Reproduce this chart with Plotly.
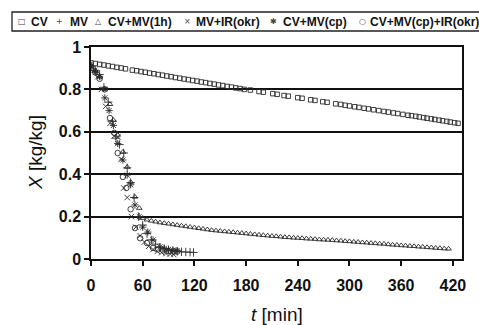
import plotly.graph_objects as go

# ---- data ----
cv_t = [0, 5, 10, 15, 20, 25, 30, 35, 40,
        48, 53, 58, 63, 68, 73, 78, 83, 88, 93, 98, 103, 108, 113, 118, 123, 128,
        133, 138, 143, 148, 153, 158, 163, 168, 173, 178,
        185, 195, 200, 211, 216, 224, 229, 240, 245, 255, 260, 269, 274,
        284, 290, 295, 300, 306, 311, 317, 322, 328,
        334, 340, 345, 351, 356, 362,
        368, 372, 377, 381, 386, 390, 395, 399, 404, 408, 413, 417, 422, 426]
cv_x = [0.925, 0.922, 0.918, 0.915, 0.911, 0.908, 0.904, 0.901, 0.897,
        0.891, 0.888, 0.884, 0.881, 0.877, 0.874, 0.870, 0.867, 0.863, 0.860, 0.856, 0.853, 0.849, 0.846, 0.842, 0.839, 0.835,
        0.832, 0.828, 0.825, 0.821, 0.818, 0.814, 0.811, 0.807, 0.804, 0.800,
        0.797, 0.790, 0.787, 0.780, 0.777, 0.771, 0.768, 0.761, 0.758, 0.751, 0.748, 0.742, 0.739,
        0.732, 0.729, 0.725, 0.722, 0.718, 0.715, 0.711, 0.708, 0.704,
        0.700, 0.696, 0.693, 0.689, 0.686, 0.682,
        0.678, 0.676, 0.673, 0.670, 0.667, 0.664, 0.661, 0.658, 0.655, 0.652, 0.649, 0.646, 0.643, 0.640]

mv_t = [0, 5, 10, 15, 20, 25, 29, 33, 38, 42, 46, 50, 55, 60, 65, 70, 75, 80, 85, 90, 95, 100, 105, 110, 115, 119]
mv_x = [0.91, 0.89, 0.87, 0.81, 0.74, 0.65, 0.57, 0.54, 0.50, 0.43, 0.36, 0.29, 0.20, 0.16, 0.12, 0.09, 0.07, 0.055, 0.048, 0.043, 0.039, 0.036, 0.034, 0.033, 0.032, 0.031]

cvmv1h_t = [0, 5, 10, 16, 22, 26, 31, 37, 42, 46, 51, 56, 60,
            65, 70, 75, 80, 85, 90, 95, 100, 105, 110, 115, 120, 125, 130, 135, 140,
            145, 150, 155, 160, 165, 170, 175, 180, 185, 190, 195, 200, 205, 210, 215, 220,
            225, 230, 235, 240, 245, 250, 255, 260, 265, 270, 275, 280, 285, 290, 295, 300,
            305, 310, 315, 320, 325, 330, 335, 340, 345, 350, 355, 360, 365, 370, 375, 380,
            385, 390, 395, 400, 405, 410, 415]
cvmv1h_x = [0.91, 0.89, 0.86, 0.80, 0.73, 0.655, 0.585, 0.505, 0.434, 0.363, 0.293, 0.24, 0.193,
            0.185, 0.180, 0.176, 0.172, 0.169, 0.166, 0.163, 0.160, 0.157, 0.154, 0.151, 0.148, 0.145, 0.142, 0.139, 0.136,
            0.134, 0.132, 0.130, 0.128, 0.126, 0.124, 0.122, 0.120, 0.118, 0.116, 0.114, 0.112, 0.110, 0.108, 0.107, 0.105,
            0.103, 0.102, 0.100, 0.099, 0.098, 0.096, 0.095, 0.094, 0.092, 0.091, 0.090, 0.089, 0.087, 0.086, 0.084, 0.083,
            0.081, 0.080, 0.078, 0.077, 0.075, 0.074, 0.072, 0.071, 0.069, 0.067, 0.066, 0.064, 0.063, 0.061, 0.060, 0.058,
            0.057, 0.055, 0.054, 0.052, 0.051, 0.049, 0.048]

mvir_t = [0, 4, 8, 12, 17, 22, 27, 31, 35, 38, 42, 47, 52, 57, 62, 67, 72, 77, 82, 87, 92, 96]
mvir_x = [0.91, 0.89, 0.86, 0.80, 0.72, 0.64, 0.58, 0.575, 0.47, 0.335, 0.29, 0.20, 0.15, 0.11, 0.08, 0.06, 0.045, 0.036, 0.030, 0.026, 0.023, 0.021]

cvmvcp_t = [0, 5, 10, 16, 21, 26, 31, 37, 42, 46, 51, 56, 60, 66, 72, 80, 85, 90, 95, 100]
cvmvcp_x = [0.91, 0.88, 0.86, 0.76, 0.70, 0.63, 0.545, 0.467, 0.396, 0.35, 0.255, 0.20, 0.15, 0.127, 0.09, 0.057, 0.050, 0.045, 0.042, 0.040]

cvmvcpir_t = [0, 5, 10, 16, 22, 27, 31, 37, 41, 46, 51, 57, 65, 72, 78, 84, 90, 96, 100]
cvmvcpir_x = [0.90, 0.88, 0.85, 0.80, 0.665, 0.595, 0.50, 0.387, 0.335, 0.235, 0.146, 0.098, 0.075, 0.052, 0.045, 0.040, 0.037, 0.035, 0.035]

series_names = ["CV", "MV", "CV+MV(1h)", "MV+IR(okr)", "CV+MV(cp)", "CV+MV(cp)+IR(okr)"]
x_ticks = [0, 60, 120, 180, 240, 300, 360, 420]
y_ticks = [0, 0.2, 0.4, 0.6, 0.8, 1]
y_tick_labels = ["0", "0.2", "0.4", "0.6", "0.8", "1"]

# ---- styling ----
W, H = 479, 325
ML, MR, MT, MB = 91, 17, 47, 66
PW, PH = W - ML - MR, H - MT - MB
mc = "#2a2a2a"
FONT = "Liberation Sans, Arial, sans-serif"

series = [
    (cv_t, cv_x, "square-open", 4.5),
    (mv_t, mv_x, "cross-thin-open", 6),
    (cvmv1h_t, cvmv1h_x, "triangle-up-open", 5),
    (mvir_t, mvir_x, "x-thin-open", 5.5),
    (cvmvcp_t, cvmvcp_x, "asterisk-open", 6),
    (cvmvcpir_t, cvmvcpir_x, "circle-open", 5.5),
]

fig = go.Figure()
for (t, x, sym, sz), name in zip(series, series_names):
    fig.add_trace(go.Scatter(
        x=t, y=x, mode="markers", name=name, showlegend=False,
        marker=dict(symbol=sym, size=sz, color=mc, line=dict(width=0.9, color=mc)),
    ))

def px2paper_x(px):
    return (px - ML) / PW

def px2paper_y(py):
    return (H - MB - py) / PH

# legend drawn as text
leg_syms = ["□", "+", "△", "×", "✱", "○"]
sym_centers = [22, 59, 98, 187, 273, 362]
name_starts = [29, 68, 106, 194, 281, 368]
annotations = []
for s, name, sc, ns in zip(leg_syms, series_names, sym_centers, name_starts):
    annotations.append(dict(
        text=s, x=px2paper_x(sc), y=px2paper_y(22), xref="paper", yref="paper",
        xanchor="center", yanchor="middle", showarrow=False,
        font=dict(family="DejaVu Sans", size=8, color="#444")))
    annotations.append(dict(
        text=name, x=px2paper_x(ns), y=px2paper_y(22), xref="paper", yref="paper",
        xanchor="left", yanchor="middle", showarrow=False,
        font=dict(family=FONT, size=12, color="#111", weight="bold")))

annotations.append(dict(
    text="<i>X</i> [kg/kg]", x=px2paper_x(35), y=0.5, xref="paper", yref="paper",
    xanchor="center", yanchor="middle", textangle=-90, showarrow=False,
    font=dict(family=FONT, size=19, color="#111")))
annotations.append(dict(
    text="<i>t</i> [min]", x=0.5, y=px2paper_y(314), xref="paper", yref="paper",
    xanchor="center", yanchor="middle", showarrow=False,
    font=dict(family=FONT, size=19, color="#111")))

shapes = [dict(type="rect", xref="paper", yref="paper",
               x0=px2paper_x(12), x1=px2paper_x(486), y0=px2paper_y(31), y1=px2paper_y(12),
               line=dict(color="#222", width=1.3), fillcolor="rgba(0,0,0,0)")]

fig.update_layout(
    width=W, height=H,
    margin=dict(l=ML, r=MR, t=MT, b=MB, pad=0),
    paper_bgcolor="white", plot_bgcolor="white",
    annotations=annotations, shapes=shapes,
    showlegend=False,
    xaxis=dict(range=[0, 430.6], tickvals=x_ticks, ticks="outside", ticklen=5,
               tickwidth=1.5, tickcolor="#111", showgrid=False, zeroline=False,
               showline=True, linecolor="#111", linewidth=1.5, mirror=True,
               ticklabelstandoff=6, automargin=False,
               tickfont=dict(family=FONT, size=16, color="#111", weight="bold")),
    yaxis=dict(range=[0, 1], tickvals=y_ticks, ticktext=y_tick_labels, ticks="outside",
               ticklen=5, tickwidth=1.5, tickcolor="#111",
               showgrid=True, gridcolor="#111", gridwidth=1.5, zeroline=False,
               showline=True, linecolor="#111", linewidth=1.5, mirror=True,
               automargin=False,
               tickfont=dict(family=FONT, size=16, color="#111", weight="bold")),
)

fig.write_html("out.html", config={"displayModeBar": False},
               post_script="document.body.style.margin='0';document.body.style.overflow='hidden';")
